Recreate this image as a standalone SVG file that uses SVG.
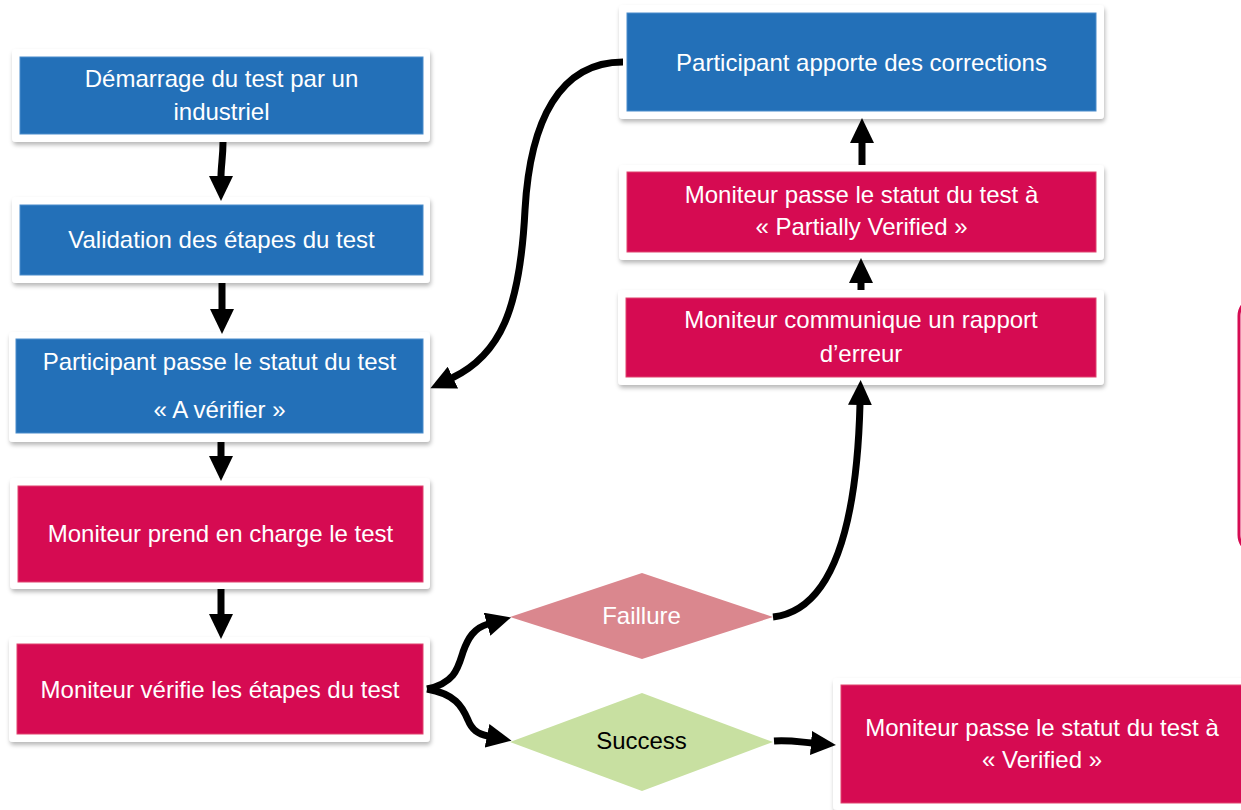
<svg xmlns="http://www.w3.org/2000/svg" width="1241" height="810" viewBox="0 0 1241 810">
<defs>
<filter id="sh" x="-5%" y="-10%" width="110%" height="125%">
<feDropShadow dx="1" dy="3" stdDeviation="2" flood-color="#000" flood-opacity="0.28"/>
</filter>
<marker id="ah" viewBox="0 0 25 24" refX="1" refY="12" markerWidth="25" markerHeight="24" markerUnits="userSpaceOnUse" orient="auto">
<path d="M0,0 L25,12 L0,24 z" fill="#000"/>
</marker>
<style>
.frame{fill:#fff;filter:url(#sh)}
.blue{fill:#2370B8;stroke:#4a8ccb;stroke-width:1}
.red{fill:#D60B52;stroke:#e0446f;stroke-width:1}
.t{font-family:"Liberation Sans",Arial,sans-serif;font-size:24px;fill:#fff;text-anchor:middle}
.tk{fill:#000}
.c{fill:none;stroke:#000;stroke-width:7;marker-end:url(#ah)}
</style>
</defs>
<rect width="1241" height="810" fill="#fff"/>

<g id="n1">
<rect class="frame" x="12" y="49" width="418" height="93" rx="4"/>
<rect class="blue" x="20" y="57" width="403" height="77"/>
<text class="t" x="221.5" y="87">Démarrage du test par un</text>
<text class="t" x="221.5" y="120">industriel</text>
</g>
<g id="n2">
<rect class="frame" x="12" y="197" width="418" height="86" rx="4"/>
<rect class="blue" x="20" y="205" width="403" height="70"/>
<text class="t" x="221.5" y="248">Validation des étapes du test</text>
</g>
<g id="n3">
<rect class="frame" x="9" y="332" width="421" height="110" rx="4"/>
<rect class="blue" x="16" y="339" width="407" height="94"/>
<text class="t" x="219.5" y="370">Participant passe le statut du test</text>
<text class="t" x="219.5" y="418">« A vérifier »</text>
</g>
<g id="n4">
<rect class="frame" x="10" y="478" width="420" height="111" rx="4"/>
<rect class="red" x="18" y="486" width="405" height="96"/>
<text class="t" x="220.5" y="542">Moniteur prend en charge le test</text>
</g>
<g id="n5">
<rect class="frame" x="9" y="637" width="421" height="105" rx="4"/>
<rect class="red" x="17" y="644" width="406" height="90"/>
<text class="t" x="220" y="698">Moniteur vérifie les étapes du test</text>
</g>
<g id="n6">
<rect class="frame" x="619" y="5" width="485" height="114" rx="4"/>
<rect class="blue" x="627" y="13" width="469" height="98"/>
<text class="t" x="861.5" y="71">Participant apporte des corrections</text>
</g>
<g id="n7">
<rect class="frame" x="619" y="165" width="485" height="95" rx="4"/>
<rect class="red" x="627" y="172" width="469" height="80"/>
<text class="t" x="861.5" y="203">Moniteur passe le statut du test à</text>
<text class="t" x="861.5" y="235">« Partially Verified »</text>
</g>
<g id="n8">
<rect class="frame" x="618" y="290" width="486" height="95" rx="4"/>
<rect class="red" x="626" y="298" width="470" height="79"/>
<text class="t" x="861" y="328">Moniteur communique un rapport</text>
<text class="t" x="861" y="362">d’erreur</text>
</g>
<g id="n9">
<polygon points="510,617 642,573 773,617 642,659" fill="#DA878E"/>
<text class="t" x="641.5" y="624">Faillure</text>
</g>
<g id="n10">
<polygon points="510,742 642,693 773,742 642,791" fill="#C8E0A1"/>
<text class="t tk" x="641.5" y="749">Success</text>
</g>
<g id="n11">
<rect class="frame" x="833" y="678" width="420" height="132" rx="4"/>
<rect class="red" x="841" y="685" width="403" height="118"/>
<text class="t" x="1042" y="736">Moniteur passe le statut du test à</text>
<text class="t" x="1042" y="768">« Verified »</text>
</g>
<g id="n12">
<rect x="1239" y="298" width="100" height="255" rx="18" fill="#fff" stroke="#D60B52" stroke-width="3"/>
</g>

<g id="connectors">
<path class="c" d="M223,142 C223,158 221,165 221,177"/>
<path class="c" d="M222,283 L222,310"/>
<path class="c" d="M221,442 L221,457"/>
<path class="c" d="M221,589 L221,615"/>
<path class="c" d="M862,165 L862,142"/>
<path class="c" d="M861,290 L861,282"/>
<path class="c" d="M773,617 C835,610 857,520 860,404"/>
<path class="c" d="M774,741 C790,740 800,742 812,743"/>
<path class="c" d="M623,62 C560,62 530,120 525,210 C520,310 500,355 452,378"/>
<path class="c" d="M427,689 C455,683 458,668 463,652 C468,638 474,628 488,624"/>
<path class="c" d="M427,689 C455,694 462,706 468,720 C472,730 478,734 488,736"/>
</g>
</svg>
